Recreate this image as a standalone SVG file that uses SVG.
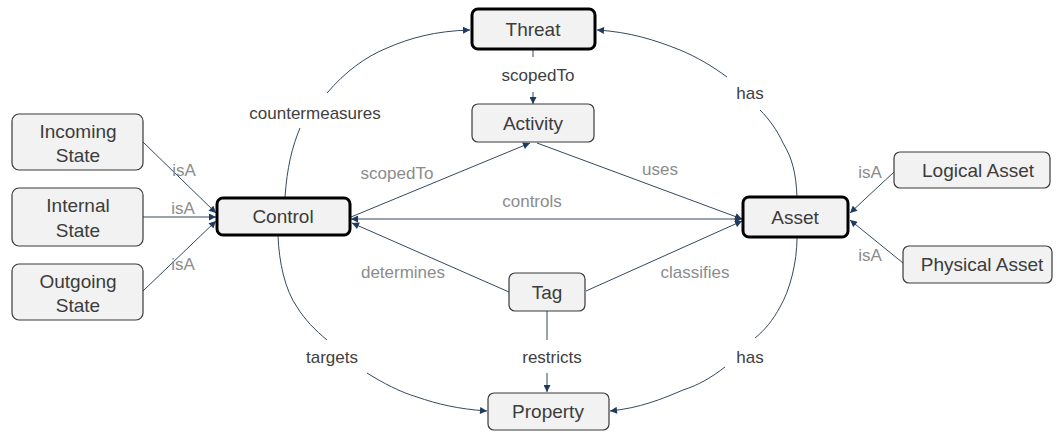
<svg xmlns="http://www.w3.org/2000/svg" width="1057" height="433" viewBox="0 0 1057 433">
  <style>
    .box { fill: #f2f2f2; stroke: #3a3a3a; stroke-width: 1.2; }
    .box.key { stroke: #000; stroke-width: 3; }
    .ntext { font-family: "Liberation Sans", Arial, sans-serif; font-size: 19px; fill: #3c3c3c; text-anchor: middle; }
    .edge { fill: none; stroke: #34495f; stroke-width: 1; }
    .arr { marker-end: url(#head); }
    .lbl { font-family: "Liberation Sans", Arial, sans-serif; font-size: 17px; fill: #404040; text-anchor: middle; }
    .lbl.soft { fill: #8c8c8c; }
  </style>
  <defs>
    <marker id="head" viewBox="0 0 10 10" refX="10" refY="5" markerWidth="8" markerHeight="7" markerUnits="userSpaceOnUse" orient="auto">
      <path d="M0,0 L10,5 L0,10 z" fill="#1f3a5f"/>
    </marker>
    <marker id="tail" viewBox="0 0 10 10" refX="0" refY="5" markerWidth="8" markerHeight="7" markerUnits="userSpaceOnUse" orient="auto">
      <path d="M10,0 L0,5 L10,10 z" fill="#1f3a5f"/>
    </marker>
  </defs>
  <rect width="1057" height="433" fill="#fff"/>

  <g id="connectors">
    <!-- Control countermeasures Threat -->
    <path class="edge" d="M285,197 C287,168 292,147 300,128"/>
    <path class="edge arr" d="M327,93 C345,72 365,57 387,48 C410,38 435,31 470,30"/>
    <text class="lbl" x="315" y="119">countermeasures</text>

    <!-- Asset has Threat -->
    <path class="edge" d="M797,197 C796,172 792,158 783,143 C777,130 769,119 760,110"/>
    <path class="edge arr" d="M727,77 C712,66 697,57 680,50 C655,40 630,32 597,30"/>
    <text class="lbl" x="750" y="99">has</text>

    <!-- Threat scopedTo Activity -->
    <path class="edge" d="M533,49 L533,57"/>
    <path class="edge arr" d="M533,92 L533,104"/>
    <text class="lbl" x="538" y="81">scopedTo</text>

    <!-- Control scopedTo Activity -->
    <path class="edge arr" d="M351,217 L530,143"/>
    <text class="lbl soft" x="397" y="179">scopedTo</text>

    <!-- Activity uses Asset -->
    <path class="edge arr" d="M537,143 L742,219"/>
    <text class="lbl soft" x="660" y="175">uses</text>

    <!-- Control controls Asset -->
    <path class="edge" d="M351,219 L742,219" marker-start="url(#tail)" marker-end="url(#head)"/>
    <text class="lbl soft" x="532" y="207">controls</text>

    <!-- Tag determines Control -->
    <path class="edge arr" d="M509,292 L352,223"/>
    <text class="lbl soft" x="403" y="278">determines</text>

    <!-- Tag classifies Asset -->
    <path class="edge arr" d="M586,291 L742,221"/>
    <text class="lbl soft" x="695" y="278">classifies</text>

    <!-- Tag restricts Property -->
    <path class="edge" d="M547,311 L547,340"/>
    <path class="edge arr" d="M547,373 L547,392"/>
    <text class="lbl" x="552" y="363">restricts</text>

    <!-- Control targets Property -->
    <path class="edge" d="M278,236 C279,262 285,290 297,307 C305,320 315,330 327,340"/>
    <path class="edge arr" d="M367,373 C383,383 400,392 417,397 C437,404 458,409 487,411"/>
    <text class="lbl" x="332" y="363">targets</text>

    <!-- Asset has Property -->
    <path class="edge" d="M797,238 C797,262 790,290 780,307 C773,320 765,330 755,338"/>
    <path class="edge arr" d="M725,367 C712,377 699,385 683,390 C662,399 640,408 610,411"/>
    <text class="lbl" x="750" y="363">has</text>

    <!-- states are kinds of Control -->
    <path class="edge arr" d="M143,142 L216,213"/>
    <path class="edge arr" d="M143,217 L216,217"/>
    <path class="edge arr" d="M143,291 L216,221"/>
    <text class="lbl soft" x="184" y="176">isA</text>
    <text class="lbl soft" x="183" y="214">isA</text>
    <text class="lbl soft" x="183" y="270">isA</text>

    <!-- asset kinds -->
    <path class="edge arr" d="M894,172 L850,213"/>
    <path class="edge arr" d="M903,263 L850,220"/>
    <text class="lbl soft" x="870" y="178">isA</text>
    <text class="lbl soft" x="870" y="261">isA</text>
  </g>

  <g id="threat">
    <rect class="box key" x="472" y="9" width="123" height="40" rx="6"/>
    <text class="ntext" x="533" y="36">Threat</text>
  </g>
  <g id="activity">
    <rect class="box" x="472" y="104" width="122" height="38" rx="6"/>
    <text class="ntext" x="533" y="130">Activity</text>
  </g>
  <g id="control">
    <rect class="box key" x="217" y="198" width="133" height="37" rx="6"/>
    <text class="ntext" x="283" y="223">Control</text>
  </g>
  <g id="asset">
    <rect class="box key" x="743" y="197" width="105" height="40" rx="6"/>
    <text class="ntext" x="795" y="224">Asset</text>
  </g>
  <g id="tag">
    <rect class="box" x="509" y="273" width="76" height="38" rx="6"/>
    <text class="ntext" x="547" y="299">Tag</text>
  </g>
  <g id="property">
    <rect class="box" x="488" y="393" width="121" height="37" rx="6"/>
    <text class="ntext" x="548" y="418">Property</text>
  </g>
  <g id="incoming-state">
    <rect class="box" x="12" y="114" width="131" height="56" rx="7"/>
    <text class="ntext" x="78" y="138">Incoming</text>
    <text class="ntext" x="78" y="162">State</text>
  </g>
  <g id="internal-state">
    <rect class="box" x="12" y="188" width="131" height="58" rx="7"/>
    <text class="ntext" x="78" y="212">Internal</text>
    <text class="ntext" x="78" y="237">State</text>
  </g>
  <g id="outgoing-state">
    <rect class="box" x="12" y="264" width="131" height="56" rx="7"/>
    <text class="ntext" x="78" y="288">Outgoing</text>
    <text class="ntext" x="78" y="312">State</text>
  </g>
  <g id="logical-asset">
    <rect class="box" x="894" y="152" width="156" height="36" rx="6"/>
    <text class="ntext" x="978" y="177">Logical Asset</text>
  </g>
  <g id="physical-asset">
    <rect class="box" x="903" y="246" width="149" height="37" rx="6"/>
    <text class="ntext" x="982" y="271">Physical Asset</text>
  </g>
</svg>
